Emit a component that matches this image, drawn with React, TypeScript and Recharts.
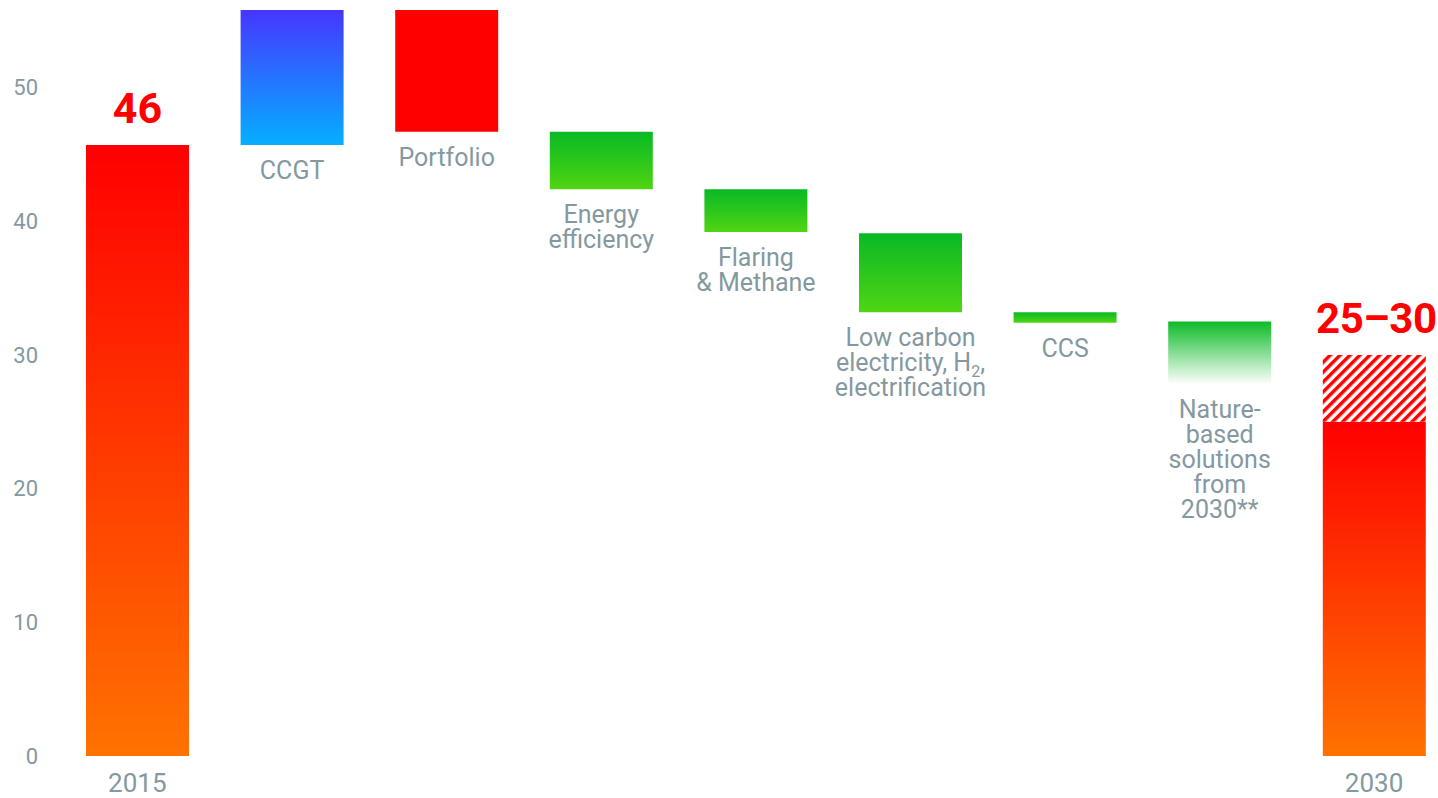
import { Bar, BarChart, Cell, LabelList, XAxis, YAxis } from "recharts";

const categories = [
  "2015",
  "CCGT",
  "Portfolio",
  "Energy efficiency",
  "Flaring & Methane",
  "Low carbon electricity, H₂, electrification",
  "CCS",
  "Nature-based solutions from 2030**",
  "2030",
];
const barBottoms = [0, 45.7, 46.7, 42.4, 39.2, 33.2, 32.4, 27.8, 0];
const barTops = [45.7, 55.8, 55.8, 46.7, 42.4, 39.1, 33.2, 32.5, 25];
const rangeTops = [0, 0, 0, 0, 0, 0, 0, 0, 30];
const totalLabels = ["46", "", "", "", "", "", "", "", "25–30"];
const axisLabels = ["2015", "", "", "", "", "", "", "", "2030"];
const labelLines = [
  [],
  ["CCGT"],
  ["Portfolio"],
  ["Energy", "efficiency"],
  ["Flaring", "& Methane"],
  ["Low carbon", "electricity, H₂,", "electrification"],
  ["CCS"],
  ["Nature-", "based", "solutions", "from", "2030**"],
  [],
];
const yTicks = [0, 10, 20, 30, 40, 50];

const fills = [
  "url(#gOrange)",
  "url(#gBlue)",
  "#ff0000",
  "url(#gGreen)",
  "url(#gGreen)",
  "url(#gGreen)",
  "url(#gGreen)",
  "url(#gGreenFade)",
  "url(#gOrange)",
];

const data = categories.map((name, i) => ({
  name,
  base: barBottoms[i],
  delta: barTops[i] - barBottoms[i],
  extra: rangeTops[i] ? rangeTops[i] - barTops[i] : 0,
}));

const GRAY = "#84999f";
const RED = "#ff0000";
const FONT = "Roboto, sans-serif";
const LINE_STEP = 25;

// one line of a category label, H₂ gets a real subscript
const renderLine = (line: string, cx: number, k: number) => {
  const dy = k === 0 ? 0 : LINE_STEP;
  if (!line.includes("₂")) {
    return (
      <tspan key={k} x={cx} dy={dy}>
        {line}
      </tspan>
    );
  }
  const [before, after] = line.split("₂");
  return (
    <tspan key={k}>
      <tspan x={cx} dy={dy} dx={0}>
        {before}
      </tspan>
      <tspan fontSize={16} dy={6}>
        2
      </tspan>
      <tspan dy={-6}>{after}</tspan>
    </tspan>
  );
};

const DeltaLabel = (props: any) => {
  const { x, y, width, height, value } = props;
  const i = categories.indexOf(value);
  const cx = Number(x) + Number(width) / 2;
  if (i < 0) return null;
  if (totalLabels[i] && !rangeTops[i]) {
    return (
      <text x={cx} y={Number(y) - 22} textAnchor="middle" fill={RED} fontSize={43} fontWeight={700} fontFamily={FONT}>
        {totalLabels[i]}
      </text>
    );
  }
  const bottom = Number(y) + Number(height);
  if (!labelLines[i].length) return null;
  return (
    <text x={cx} y={bottom + 34} textAnchor="middle" fill={GRAY} fontSize={25} fontFamily={FONT}>
      {labelLines[i].map((line, k) => renderLine(line, cx, k))}
    </text>
  );
};

const ExtraLabel = (props: any) => {
  const { x, y, width, value } = props;
  const i = categories.indexOf(value);
  if (i < 0 || !rangeTops[i]) return null;
  return (
    <text
      x={Number(x) + Number(width) / 2 + 2}
      y={Number(y) - 22}
      textAnchor="middle"
      fill={RED}
      fontSize={42}
      fontWeight={700}
      fontFamily={FONT}
      letterSpacing={-0.5}
    >
      {totalLabels[i]}
    </text>
  );
};

const AxisTick = (props: any) => {
  const { x, y, index } = props;
  return (
    <text x={x} y={y + 36} textAnchor="middle" fill={GRAY} fontSize={26} fontFamily={FONT}>
      {axisLabels[index]}
    </text>
  );
};

export default function App() {
  return (
    <div
      style={{
        position: "absolute",
        left: 0,
        top: 0,
        width: 1438,
        height: 798,
        overflow: "hidden",
        background: "#fff",
      }}
    >
      <BarChart
        width={1460}
        height={798}
        data={data}
        margin={{ top: 10, right: 8.6, bottom: 0, left: 0 }}
        barSize={103}
      >
        <defs>
          <linearGradient id="gOrange" x1="0" y1="0" x2="0" y2="1">
            <stop offset="0%" stopColor="#ff0000" />
            <stop offset="100%" stopColor="#ff7200" />
          </linearGradient>
          <linearGradient id="gBlue" x1="0" y1="0" x2="0" y2="1">
            <stop offset="0%" stopColor="#4636ff" />
            <stop offset="100%" stopColor="#05afff" />
          </linearGradient>
          <linearGradient id="gGreen" x1="0" y1="0" x2="0" y2="1">
            <stop offset="0%" stopColor="#08b925" />
            <stop offset="100%" stopColor="#50d513" />
          </linearGradient>
          <linearGradient id="gGreenFade" x1="0" y1="0" x2="0" y2="1">
            <stop offset="0%" stopColor="#0dbb27" stopOpacity={1} />
            <stop offset="100%" stopColor="#0dbb27" stopOpacity={0} />
          </linearGradient>
          <pattern
            id="hatch"
            patternUnits="userSpaceOnUse"
            width={7}
            height={7}
            patternTransform="rotate(45)"
          >
            <rect width={7} height={7} fill="#fff" />
            <rect width={3.5} height={7} fill={RED} />
          </pattern>
        </defs>
        <XAxis
          dataKey="name"
          axisLine={false}
          tickLine={false}
          tickSize={0}
          tickMargin={0}
          height={42}
          interval={0}
          tick={<AxisTick />}
        />
        <YAxis
          domain={[0, 55.8]}
          ticks={yTicks}
          allowDataOverflow
          axisLine={false}
          tickLine={false}
          tickSize={0}
          tickMargin={22}
          width={60}
          tick={{ fill: GRAY, fontSize: 22, fontFamily: FONT }}
        />
        <Bar dataKey="base" stackId="w" fill="transparent" isAnimationActive={false} />
        <Bar dataKey="delta" stackId="w" isAnimationActive={false}>
          {data.map((_, i) => (
            <Cell key={i} fill={fills[i]} />
          ))}
          <LabelList dataKey="name" content={<DeltaLabel />} />
        </Bar>
        <Bar dataKey="extra" stackId="w" fill="url(#hatch)" isAnimationActive={false}>
          <LabelList dataKey="name" content={<ExtraLabel />} />
        </Bar>
      </BarChart>
    </div>
  );
}
